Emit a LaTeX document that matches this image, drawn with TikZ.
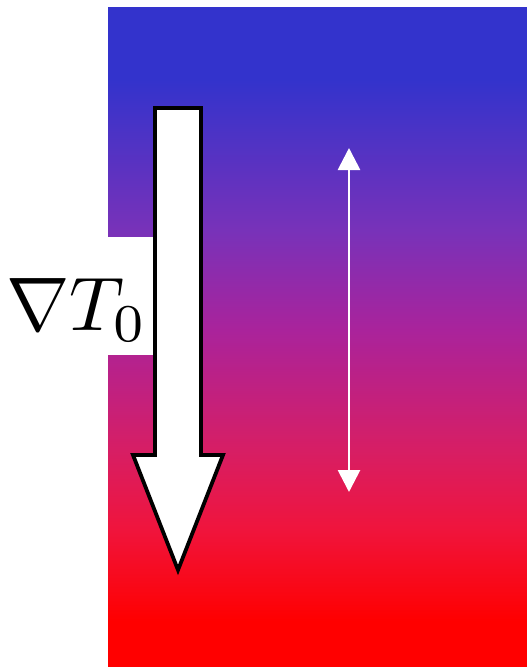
\documentclass[tikz,border=0pt]{standalone}
\usepackage{amsmath,amssymb}
\usepackage{graphicx}
\usepackage{xcolor}
\usetikzlibrary{arrows.meta,calc}
\definecolor{cBlue}{RGB}{51,51,204}
\definecolor{cViolet}{RGB}{120,50,185}
\definecolor{cMagenta}{RGB}{170,35,155}
\definecolor{cRose}{RGB}{215,30,100}
\definecolor{cCrimson}{RGB}{240,20,60}
\definecolor{cRed}{RGB}{255,0,0}
\pgfdeclareverticalshading{gradT}{100bp}{
  color(0bp)=(cRed); color(28.5bp)=(cRed); color(35.4bp)=(cCrimson);
  color(41.4bp)=(cRose); color(50.5bp)=(cMagenta); color(58.1bp)=(cViolet);
  color(69.5bp)=(cBlue); color(100bp)=(cBlue)}

\begin{document}
\begin{tikzpicture}[x=1pt,y=-1pt,
  fluxarrow/.style={draw=black,line width=3.8pt,fill=white,line join=miter},
  wave/.style={{Triangle[length=22pt,width=22pt]}-{Triangle[length=22pt,width=22pt]},
               draw=white,line width=2.8pt},
  lbl/.style={inner sep=0pt}]
\useasboundingbox (0,0) rectangle (527,667);

% temperature gradient
\shade[shading=gradT] (108,7) rectangle (527,667);

% label
\fill[white] (0,237) rectangle (155,355);
\node[lbl] (grad) at (77,310) {\scalebox{7.6}{$\nabla T_0$}};

% big downward arrow
\coordinate (tip) at (178,570);
\draw[fluxarrow] (155,108) -- (201,108) -- (201,455) -- (223,455) -- (tip)
  -- (133,455) -- (155,455) -- cycle;

% oscillation
\coordinate (up) at (349,148);
\coordinate (down) at (349,492);
\draw[wave] (up) -- (down);
\end{tikzpicture}
\end{document}
